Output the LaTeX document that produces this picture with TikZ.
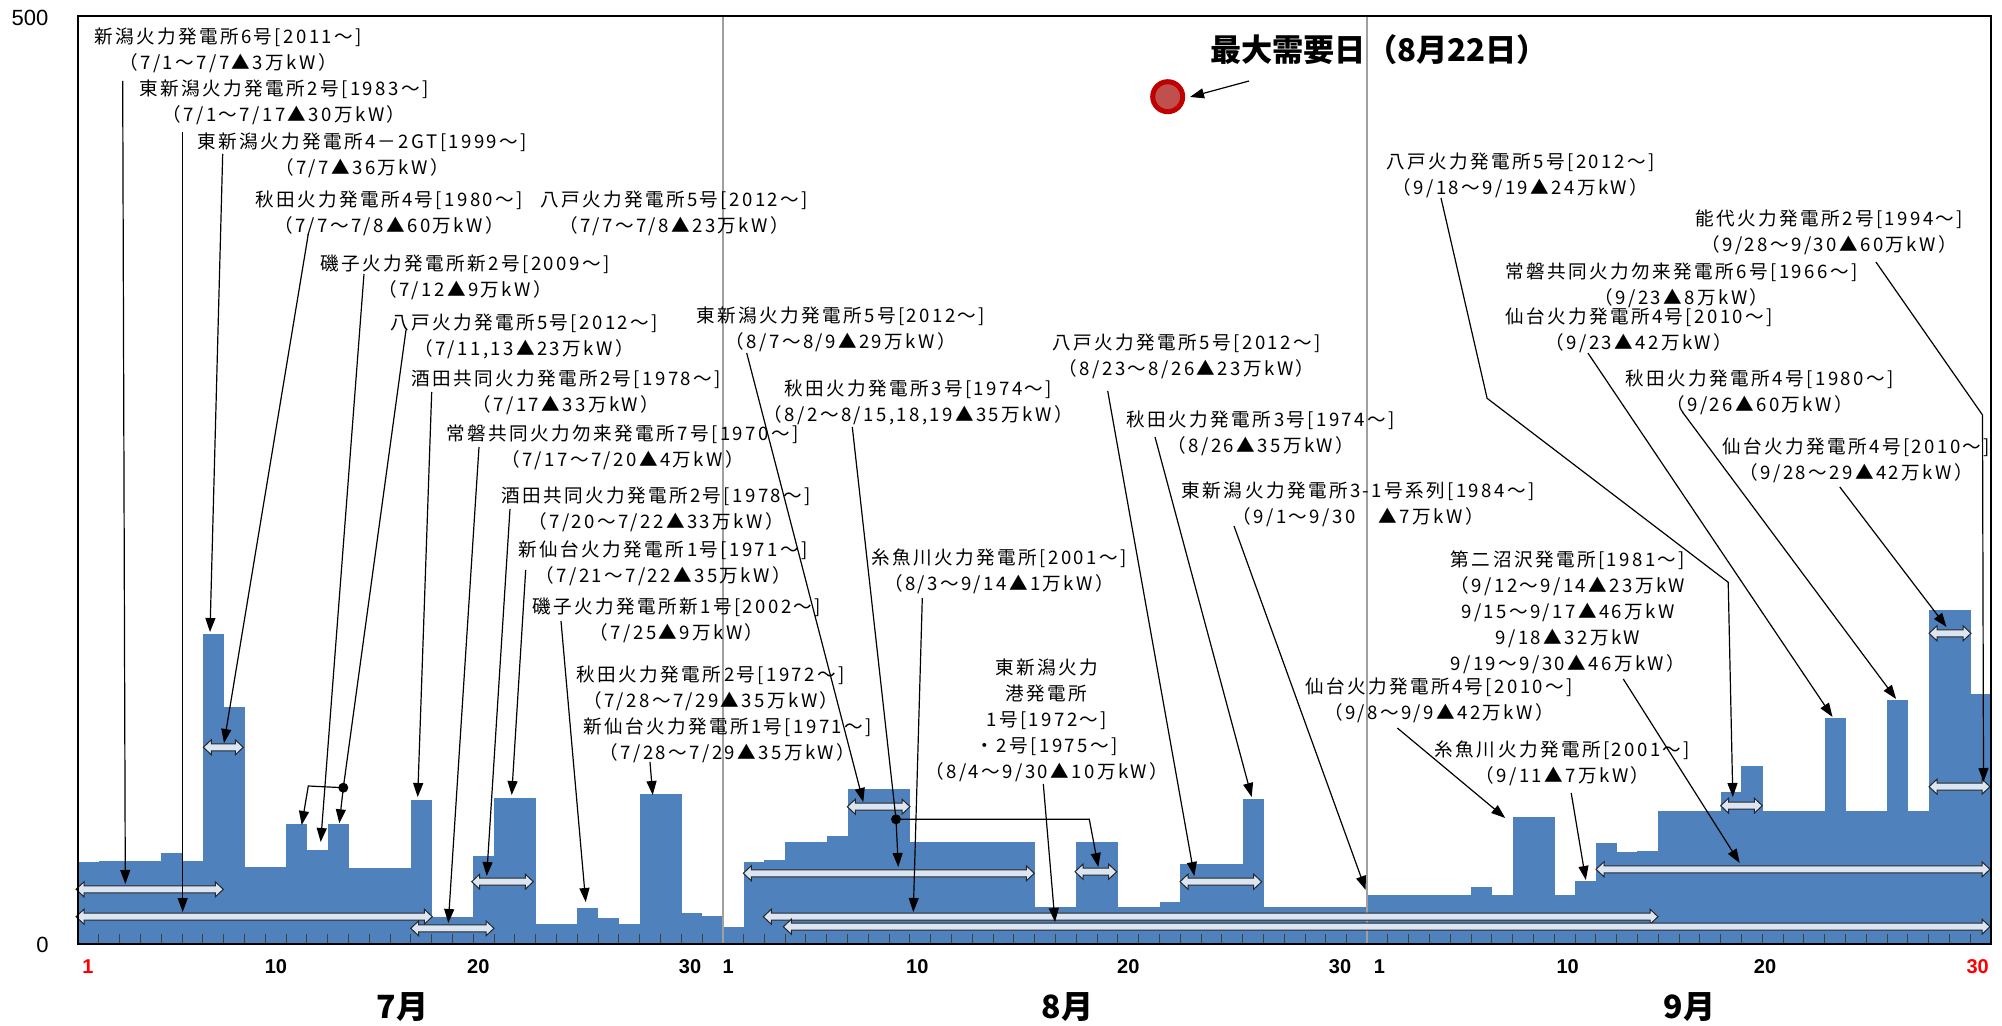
\documentclass[tikz,border=0pt]{standalone}
\usepackage{fontspec}
\usetikzlibrary{arrows.meta}
\newfontfamily\jp[LetterSpace=13]{Noto Sans CJK JP}
\newfontfamily\jpn{Noto Sans CJK JP}
\newfontfamily\arl{Liberation Sans}
\definecolor{barblue}{HTML}{4F81BD}
\definecolor{arrfill}{HTML}{DCE6F2}
\definecolor{ringred}{HTML}{C00000}
\definecolor{dotred}{HTML}{C0504D}
\definecolor{sepgray}{HTML}{A0A0A0}
\tikzset{
 lab/.style={font=\jp\fontsize{9.3}{13}\selectfont, align=center, inner sep=0pt},
 ann/.style={line width=0.6pt, -{Triangle[length=7pt,width=5pt]}},
 annline/.style={line width=0.6pt},
 dbl/.style={fill=arrfill, draw=black!85, line width=0.5pt, line join=miter},
 daynum/.style={font=\arl\bfseries\fontsize{10}{12}\selectfont, inner sep=0pt},
 axnum/.style={font=\arl\fontsize{11}{13}\selectfont, inner sep=0pt},
 monthlab/.style={font=\jpn\bfseries\fontsize{16}{18}\selectfont, inner sep=0pt},
 daytick/.style={black!75, line width=0.5pt},
 junction/.style={circle, fill=black, inner sep=0pt, minimum size=5pt},
}
\newcommand\dblarr[3]{\draw[dbl] (#1,#3) -- ++(8,-7.5) -- ++(0,4) -- ({#2-8},{#3-3.5}) -- ++(0,-4) -- (#2,#3) -- ({#2-8},{#3+7.5}) -- ++(0,-4) -- ({#1+8},{#3+3.5}) -- ++(0,4) -- cycle;}
\begin{document}
\begin{tikzpicture}[x=0.5pt,y=-0.5pt]
\useasboundingbox (0,0) rectangle (2002,1026);
\fill[white] (0,0) rectangle (2002,1026);
% bars
\foreach \d/\t in {1/862.3,2/861.3,3/861,4/861.3,5/853,6/861.3,7/634,8/707,9/867,10/867,11/824,12/850.3,13/824,14/867.7,15/868.3,16/868.3,17/800,18/916.7,19/916.7,20/855.7,21/798,22/798,23/924,24/924,25/907.7,26/918,27/924,28/794.3,29/794.3,30/913,31/916.3}
  \fill[barblue] ({78+20.8*(\d-1)},944) rectangle ({78+20.8*\d+0.4},\t);
\foreach \d/\t in {1/927,2/862,3/860.3,4/842,5/842,6/836,7/789,8/789,9/789,10/842,11/842,12/842,13/842,14/842,15/842,16/906.7,17/906.7,18/842,19/842,20/906.7,21/906.7,22/902.3,23/863.7,24/863.7,25/863.7,26/798.7,27/906.7,28/906.7,29/906.7,30/906.7,31/906.7}
  \fill[barblue] ({722.7+20.8*(\d-1)},944) rectangle ({722.7+20.8*\d+0.4},\t);
\foreach \d/\t in {1/895,2/895,3/895,4/895,5/895,6/887,7/895,8/817,9/817,10/895,11/881,12/843,13/852,14/851.3,15/810.7,16/810.7,17/810.7,18/792,19/766,20/810.7,21/810.7,22/810.7,23/718.3,24/810.7,25/810.7,26/700,27/810.7,28/610,29/610,30/694.3}
  \fill[barblue] ({1367+20.8*(\d-1)},944) rectangle ({1367+20.8*\d+0.4},\t);
% ticks
\foreach \d in {1,...,30} \draw[daytick] ({78+20.8*\d},944) -- ++(0,-10);
\foreach \d in {1,...,30} \draw[daytick] ({722.7+20.8*\d},944) -- ++(0,-10);
\foreach \d in {1,...,29} \draw[daytick] ({1367+20.8*\d},944) -- ++(0,-10);
% month separators
\draw[sepgray, line width=0.9pt] (722.7,16.5) -- (722.7,944);
\draw[sepgray, line width=0.9pt] (1367,16.5) -- (1367,944);
% double arrows
\dblarr{76}{223.3}{889.3}
\dblarr{76}{432.3}{916.7}
\dblarr{203.3}{243.3}{747.3}
\dblarr{410.7}{494}{928.3}
\dblarr{471.7}{533.3}{881.7}
\dblarr{847.3}{910}{806.7}
\dblarr{743.3}{1034.3}{873.3}
\dblarr{1075}{1116.7}{871.7}
\dblarr{763.3}{1658}{916.7}
\dblarr{783.3}{1990}{926.7}
\dblarr{1180}{1261.7}{881.7}
\dblarr{1720.6}{1762.3}{805.7}
\dblarr{1929}{1990}{786.7}
\dblarr{1929}{1971}{633.3}
\dblarr{1596}{1990}{869.3}
% frame
\draw[line width=1pt] (78,16.5) rectangle (1991,944);
% axis labels
\node[axnum] (y500) at (30,18.3) {500};
\node[axnum] (y0) at (42.5,945) {0};
\node[daynum, text=red] (j1) at (88,967) {1};
\node[daynum] (j10) at (276,967) {10};
\node[daynum] (j20) at (478.3,967) {20};
\node[daynum] (j30) at (690,967) {30};
\node[daynum] (g1) at (728.3,967) {1};
\node[daynum] (g10) at (917.3,967) {10};
\node[daynum] (g20) at (1128.3,967) {20};
\node[daynum] (g30) at (1340,967) {30};
\node[daynum] (s1) at (1379.3,967) {1};
\node[daynum] (s10) at (1567.7,967) {10};
\node[daynum] (s20) at (1765,967) {20};
\node[daynum, text=red] (s30) at (1977.7,967) {30};
\node[monthlab] (m7) at (402.5,1006.7) {7月};
\node[monthlab] (m8) at (1067.5,1006.7) {8月};
\node[monthlab] (m9) at (1689.4,1006.7) {9月};
% labels
\node[lab] (n1) at (228,50.8) {新潟火力発電所6号[2011～]\\（7/1～7/7▲3万kW）};
\node[lab] (n2) at (284,102.5) {東新潟火力発電所2号[1983～]\\（7/1～7/17▲30万kW）};
\node[lab] (n3) at (362,155) {東新潟火力発電所4－2GT[1999～]\\（7/7▲36万kW）};
\node[lab] (n4) at (389,213.3) {秋田火力発電所4号[1980～]\\（7/7～7/8▲60万kW）};
\node[lab] (n5) at (674,213.3) {八戸火力発電所5号[2012～]\\（7/7～7/8▲23万kW）};
\node[lab] (n6) at (465,277.5) {磯子火力発電所新2号[2009～]\\（7/12▲9万kW）};
\node[lab] (n7) at (524,336.7) {八戸火力発電所5号[2012～]\\（7/11,13▲23万kW）};
\node[lab] (n8) at (566,392) {酒田共同火力発電所2号[1978～]\\（7/17▲33万kW）};
\node[lab] (n9) at (622.5,447) {常磐共同火力勿来発電所7号[1970～]\\（7/17～7/20▲4万kW）};
\node[lab] (n10) at (656,509) {酒田共同火力発電所2号[1978～]\\（7/20～7/22▲33万kW）};
\node[lab] (n11) at (663.3,563) {新仙台火力発電所1号[1971～]\\（7/21～7/22▲35万kW）};
\node[lab] (n12) at (676.7,620.8) {磯子火力発電所新1号[2002～]\\（7/25▲9万kW）};
\node[lab] (n13) at (710.8,688.3) {秋田火力発電所2号[1972～]\\（7/28～7/29▲35万kW）};
\node[lab] (n14) at (727.5,740.8) {新仙台火力発電所1号[1971～]\\（7/28～7/29▲35万kW）};
\node[lab] (n15) at (840.8,329.2) {東新潟火力発電所5号[2012～]\\（8/7～8/9▲29万kW）};
\node[lab] (n16) at (918.3,402.5) {秋田火力発電所3号[1974～]\\（8/2～8/15,18,19▲35万kW）};
\node[lab] (n17) at (999,571.7) {糸魚川火力発電所[2001～]\\（8/3～9/14▲1万kW）};
\node[lab] (n18) at (1046.7,720) {東新潟火力\\港発電所\\1号[1972～]\\・2号[1975～]\\（8/4～9/30▲10万kW）};
\node[lab] (n19) at (1186.7,356.3) {八戸火力発電所5号[2012～]\\（8/23～8/26▲23万kW）};
\node[lab] (n20) at (1260.8,433) {秋田火力発電所3号[1974～]\\（8/26▲35万kW）};
\node[lab] (n21) at (1358.2,504.5) {東新潟火力発電所3-1号系列[1984～]\\（9/1～9/30　▲7万kW）};
\node[inner sep=0pt, font=\jpn\bfseries\fontsize{15.6}{17}\selectfont] (n22) at (1379,50) {最大需要日（8月22日）};
\node[lab] (n23) at (1520.5,175.8) {八戸火力発電所5号[2012～]\\（9/18～9/19▲24万kW）};
\node[lab] (n24) at (1829.2,232.5) {能代火力発電所2号[1994～]\\（9/28～9/30▲60万kW）};
\node[lab] (n25) at (1681.5,285.8) {常磐共同火力勿来発電所6号[1966～]\\（9/23▲8万kW）};
\node[lab] (n26) at (1639,330.8) {仙台火力発電所4号[2010～]\\（9/23▲42万kW）};
\node[lab] (n27) at (1759.7,392) {秋田火力発電所4号[1980～]\\（9/26▲60万kW）};
\node[lab] (n28) at (1856.2,460.8) {仙台火力発電所4号[2010～]\\（9/28～29▲42万kW）};
\node[lab] (n29) at (1568,612.5) {第二沼沢発電所[1981～]\\（9/12～9/14▲23万kW\\9/15～9/17▲46万kW\\9/18▲32万kW\\9/19～9/30▲46万kW）};
\node[lab] (n30) at (1439,700.8) {仙台火力発電所4号[2010～]\\（9/8～9/9▲42万kW）};
\node[lab] (n31) at (1562.5,763) {糸魚川火力発電所[2001～]\\（9/11▲7万kW）};
% max demand dot
\node[circle, draw=ringred, line width=2.5pt, fill=dotred, inner sep=0pt, minimum size=15pt] (maxdot) at (1167.7,96.7) {};
% junction dots
\node[junction] (d1) at (343.3,787.7) {};
\node[junction] (d2) at (896,819.3) {};
% connector coordinates
\coordinate (a1s) at (122.7,81); \coordinate (a1e) at (125.3,884);
\coordinate (a2s) at (182.7,132); \coordinate (a2e) at (182.7,912);
\coordinate (a3s) at (222.7,154); \coordinate (a3e) at (210,632);
\coordinate (a4s) at (308.3,234); \coordinate (a4e) at (224,743);
\coordinate (a5s) at (364,274); \coordinate (a5e) at (320.7,842);
\coordinate (a6s) at (406,330); \coordinate (a6k) at (308.3,786); \coordinate (a6e) at (301.7,825); \coordinate (a6f) at (339.3,823.3);
\coordinate (a7s) at (431.7,392); \coordinate (a7e) at (417.7,797);
\coordinate (a8s) at (479,447); \coordinate (a8e) at (448.3,923);
\coordinate (a9s) at (510,509); \coordinate (a9e) at (486.7,876);
\coordinate (a10s) at (525.7,570); \coordinate (a10e) at (511.7,795);
\coordinate (a11s) at (561,621); \coordinate (a11e) at (585.7,902);
\coordinate (a12s) at (650,762); \coordinate (a12e) at (652.7,795);
\coordinate (a13s) at (746.7,353); \coordinate (a13e) at (863.3,802);
\coordinate (a14s) at (852.3,427); \coordinate (a14e) at (898.3,867); \coordinate (a14k) at (1089.3,819.3); \coordinate (a14f) at (1098.3,867);
\coordinate (a15s) at (922.3,598); \coordinate (a15e) at (913.3,912);
\coordinate (a16s) at (1043.3,784); \coordinate (a16e) at (1055,922);
\coordinate (a17s) at (1107.7,391); \coordinate (a17e) at (1194.3,876);
\coordinate (a18s) at (1155,437); \coordinate (a18e) at (1251.7,797);
\coordinate (a19s) at (1234,526); \coordinate (a19e) at (1365.7,890);
\coordinate (a20s) at (1441,198); \coordinate (a20k) at (1487.1,398.3); \coordinate (a20l) at (1728.2,582.3); \coordinate (a20e) at (1732.8,797);
\coordinate (a21s) at (1875.9,262); \coordinate (a21k) at (1982.5,415); \coordinate (a21e) at (1983.5,782);
\coordinate (a22s) at (1587.9,353); \coordinate (a22e) at (1832.5,717);
\coordinate (a23s) at (1682.4,412); \coordinate (a23e) at (1896.1,699);
\coordinate (a24s) at (1839.8,487); \coordinate (a24e) at (1946.5,627);
\coordinate (a25s) at (1623.3,679); \coordinate (a25e) at (1739.7,863);
\coordinate (a26s) at (1397.3,728); \coordinate (a26e) at (1505.2,818);
\coordinate (a27s) at (1571.2,793); \coordinate (a27e) at (1585.8,880);
\coordinate (a28s) at (1249,81); \coordinate (a28e) at (1190,97);
% connectors
\draw[ann] (a1s) -- (a1e);
\draw[ann] (a2s) -- (a2e);
\draw[ann] (a3s) -- (a3e);
\draw[ann] (a4s) -- (a4e);
\draw[ann] (a5s) -- (a5e);
\draw[annline] (a6s) -- (d1.center);
\draw[ann] (d1.center) -- (a6k) -- (a6e);
\draw[ann] (d1.center) -- (a6f);
\draw[ann] (a7s) -- (a7e);
\draw[ann] (a8s) -- (a8e);
\draw[ann] (a9s) -- (a9e);
\draw[ann] (a10s) -- (a10e);
\draw[ann] (a11s) -- (a11e);
\draw[ann] (a12s) -- (a12e);
\draw[ann] (a13s) -- (a13e);
\draw[annline] (a14s) -- (d2.center);
\draw[ann] (d2.center) -- (a14e);
\draw[ann] (d2.center) -- (a14k) -- (a14f);
\draw[ann] (a15s) -- (a15e);
\draw[ann] (a16s) -- (a16e);
\draw[ann] (a17s) -- (a17e);
\draw[ann] (a18s) -- (a18e);
\draw[ann] (a19s) -- (a19e);
\draw[ann] (a20s) -- (a20k) -- (a20l) -- (a20e);
\draw[ann] (a21s) -- (a21k) -- (a21e);
\draw[ann] (a22s) -- (a22e);
\draw[ann] (a23s) -- (a23e);
\draw[ann] (a24s) -- (a24e);
\draw[ann] (a25s) -- (a25e);
\draw[ann] (a26s) -- (a26e);
\draw[ann] (a27s) -- (a27e);
\draw[ann] (a28s) -- (a28e);
\end{tikzpicture}
\end{document}
